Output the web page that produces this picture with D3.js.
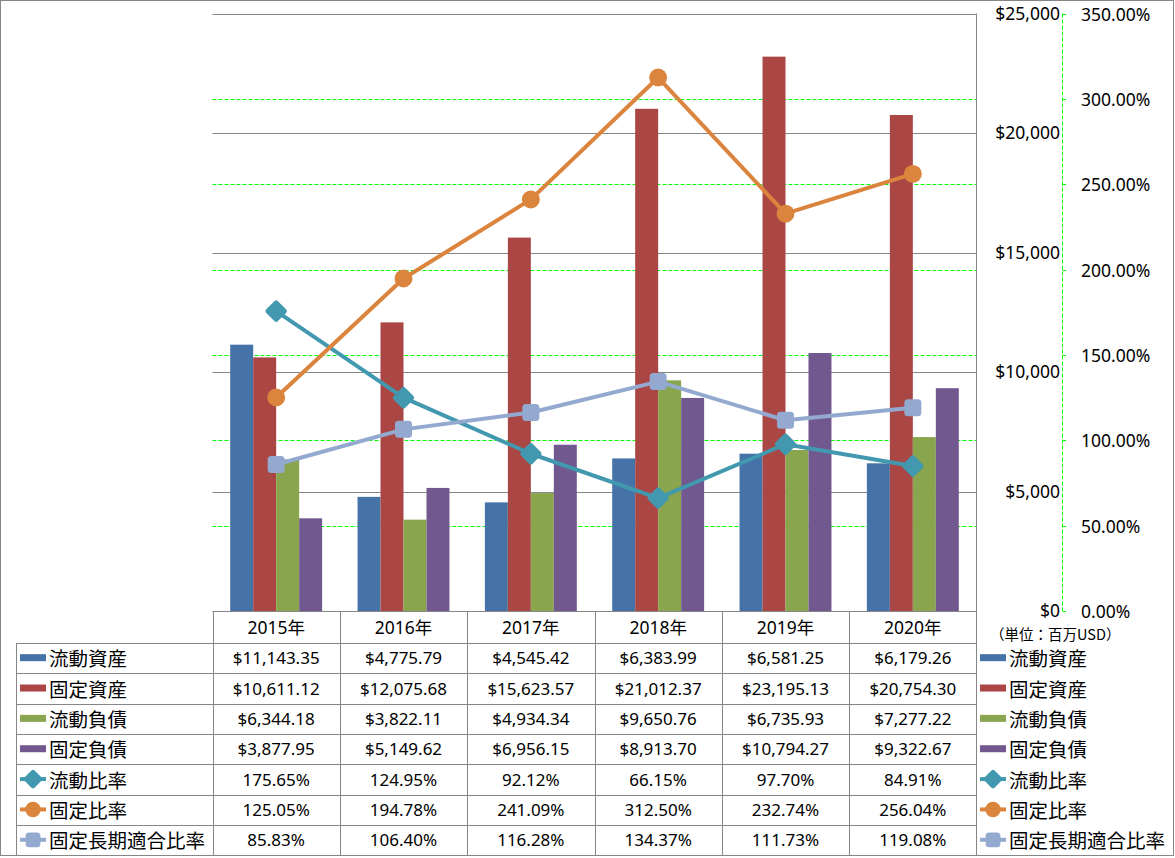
<!DOCTYPE html>
<html><head><meta charset="utf-8">
<script src="https://cdn.jsdelivr.net/npm/d3@7"></script>
<style>
body{margin:0;background:#fff;}
svg{display:block;}
text{font-family:"Noto Sans","Noto Sans CJK JP",sans-serif;fill:#000;}
.jp{font-family:"Noto Sans CJK JP",sans-serif;}
</style></head><body>
<svg id="c" width="1175" height="858"></svg>
<script>
const years = ["2015年","2016年","2017年","2018年","2019年","2020年"];
const barNames = ["流動資産","固定資産","流動負債","固定負債"];
const lineNames = ["流動比率","固定比率","固定長期適合比率"];
const currentAssets = [11143.35, 4775.79, 4545.42, 6383.99, 6581.25, 6179.26];
const fixedAssets = [10611.12, 12075.68, 15623.57, 21012.37, 23195.13, 20754.30];
const currentLiab = [6344.18, 3822.11, 4934.34, 9650.76, 6735.93, 7277.22];
const fixedLiab = [3877.95, 5149.62, 6956.15, 8913.70, 10794.27, 9322.67];
const currentRatio = [175.65, 124.95, 92.12, 66.15, 97.70, 84.91];
const fixedRatio = [125.05, 194.78, 241.09, 312.50, 232.74, 256.04];
const fixedLongRatio = [85.83, 106.40, 116.28, 134.37, 111.73, 119.08];
const leftTicks = [0, 5000, 10000, 15000, 20000, 25000];
const rightTicks = [0, 50, 100, 150, 200, 250, 300, 350];
const unitLabel = "（単位：百万USD）";

const barColors = ["#4572A7","#AA4643","#89A54E","#71588F"];
const lineColors = ["#4198AF","#DB843D","#93A9CF"];
const markerTypes = ["diamond","circle","square"];

const barData = [currentAssets, fixedAssets, currentLiab, fixedLiab];
const lineData = [currentRatio, fixedRatio, fixedLongRatio];

const svg = d3.select("#c");
const L = 212.5, R = 976.5, T = 13.5, B = 611;
const tableTop = 611, headerH = 32, rowH = 30.35, tableLeft = 16, tableBottom = 855.5;

const x = d3.scaleBand().domain(years).range([L, R]).paddingInner(0).paddingOuter(0);
const pad = 17.7;
const xb = d3.scaleBand().domain(barNames).range([pad, x.bandwidth() - pad]).padding(0);
const yL = d3.scaleLinear().domain([0, 25000]).range([B, T]);
const yR = d3.scaleLinear().domain([0, 350]).range([B, T]);

// outer border
svg.append("rect").attr("x",0.5).attr("y",0.5).attr("width",1173).attr("height",855).attr("fill","#fff").attr("stroke","#868686");

// gridlines: left axis solid gray
svg.append("g").selectAll("line").data(leftTicks.filter(d=>d>0)).join("line")
  .attr("x1",L).attr("x2",R).attr("y1",d=>Math.round(yL(d))+0.5).attr("y2",d=>Math.round(yL(d))+0.5)
  .attr("stroke","#868686").attr("stroke-width",1);
// right axis dashed green
svg.append("g").selectAll("line").data(rightTicks.filter(d=>d>0 && d<350)).join("line")
  .attr("x1",L).attr("x2",R).attr("y1",d=>Math.round(yR(d))+0.5).attr("y2",d=>Math.round(yR(d))+0.5)
  .attr("stroke","#00ff00").attr("stroke-width",1).attr("stroke-dasharray","4,2");

// bars
const gBars = svg.append("g");
barNames.forEach((name, si) => {
  gBars.append("g").selectAll("rect").data(barData[si]).join("rect")
    .attr("x",(d,i)=>x(years[i]) + xb(name))
    .attr("width", xb.bandwidth())
    .attr("y", d=>yL(d))
    .attr("height", d=>yL(0)-yL(d))
    .attr("fill", barColors[si]);
});

// right vertical line of plot/table
svg.append("line").attr("x1",R).attr("x2",R).attr("y1",T).attr("y2",tableBottom).attr("stroke","#868686");

// marker drawer
function marker(g, type, cx, cy, color, s) {
  if (type === "diamond") {
    const h = s*0.72;
    g.append("rect").attr("x",cx-h/2).attr("y",cy-h/2).attr("width",h).attr("height",h).attr("rx",2.5)
      .attr("transform",`rotate(45 ${cx} ${cy})`).attr("fill",color);
  } else if (type === "circle") {
    g.append("circle").attr("cx",cx).attr("cy",cy).attr("r",s/2*0.78).attr("fill",color);
  } else {
    const h = s*0.74;
    g.append("rect").attr("x",cx-h/2).attr("y",cy-h/2).attr("width",h).attr("height",h).attr("rx",3.5).attr("fill",color);
  }
}

// lines
const line = d3.line().x((d,i)=>x(years[i]) + x.bandwidth()/2).y(d=>yR(d));
const gLines = svg.append("g");
lineNames.forEach((name, si) => {
  const g = gLines.append("g");
  g.append("path").attr("d", line(lineData[si])).attr("fill","none")
    .attr("stroke", lineColors[si]).attr("stroke-width",4).attr("stroke-linejoin","round");
  lineData[si].forEach((v,i)=>{
    marker(g, markerTypes[si], x(years[i]) + x.bandwidth()/2, yR(v), lineColors[si], 23);
  });
});

// left $ axis labels (drawn on right side)
svg.append("g").selectAll("text").data(leftTicks).join("text")
  .attr("x",1060).attr("y",d=>yL(d)-1).attr("text-anchor","end").attr("dominant-baseline","central")
  .attr("font-size",17.5).text(d=>"$" + d3.format(",")(d));

// right % axis
const gR = svg.append("g");
gR.append("line").attr("x1",1062.5).attr("x2",1062.5).attr("y1",T).attr("y2",B)
  .attr("stroke","#00ff00").attr("stroke-dasharray","4,2");
gR.selectAll("line.t").data(rightTicks).join("line").attr("class","t")
  .attr("x1",1062.5).attr("x2",1066).attr("y1",d=>Math.round(yR(d))+0.5).attr("y2",d=>Math.round(yR(d))+0.5)
  .attr("stroke","#00ff00");
gR.selectAll("text").data(rightTicks).join("text")
  .attr("x",1081).attr("y",d=>yR(d)).attr("dominant-baseline","central")
  .attr("font-size",17.5).text(d=>d3.format(".2f")(d) + "%");

// unit label
svg.append("text").attr("class","jp").attr("x",990).attr("y",633).attr("dominant-baseline","central")
  .attr("font-size",14.5).text(unitLabel);

// data table
const gT = svg.append("g");
const stroke = "#868686";
gT.append("line").attr("x1",L).attr("x2",R).attr("y1",tableTop+0.5).attr("y2",tableTop+0.5).attr("stroke",stroke);
years.forEach((yr,i)=>{
  gT.append("text").attr("x",x(yr)+x.bandwidth()/2).attr("y",tableTop+headerH/2)
    .attr("text-anchor","middle").attr("dominant-baseline","central").attr("font-size",17.5).text(yr);
});
x.domain().forEach(yr=>{
  gT.append("line").attr("x1",Math.round(x(yr))+0.5).attr("x2",Math.round(x(yr))+0.5)
    .attr("y1",tableTop).attr("y2",tableBottom).attr("stroke",stroke);
});
const rowsTop = tableTop + headerH;
gT.append("line").attr("x1",tableLeft+0.5).attr("x2",tableLeft+0.5).attr("y1",rowsTop).attr("y2",tableBottom).attr("stroke",stroke);
const allNames = barNames.concat(lineNames);
const allData = barData.concat(lineData);
allNames.forEach((name, r)=>{
  const yTop = rowsTop + r*rowH;
  gT.append("line").attr("x1",tableLeft).attr("x2",R).attr("y1",Math.round(yTop)+0.5).attr("y2",Math.round(yTop)+0.5).attr("stroke",stroke);
  const cy = yTop + rowH/2 - 0.5;
  const isBar = r < 4;
  allData[r].forEach((v,i)=>{
    gT.append("text").attr("x",x(years[i])+x.bandwidth()/2).attr("y",cy)
      .attr("text-anchor","middle").attr("dominant-baseline","central").attr("font-size",17)
      .text(isBar ? "$" + d3.format(",.2f")(v) : d3.format(".2f")(v) + "%");
  });
  [[20, 49],[980, 1009]].forEach(([kx, tx])=>{
    if (isBar) {
      gT.append("rect").attr("x",kx).attr("y",cy-3.5).attr("width",26).attr("height",7).attr("fill",barColors[r]);
    } else {
      const li = r-4;
      gT.append("line").attr("x1",kx).attr("x2",kx+26).attr("y1",cy).attr("y2",cy)
        .attr("stroke",lineColors[li]).attr("stroke-width",4);
      marker(gT, markerTypes[li], kx+13, cy, lineColors[li], 20);
    }
    gT.append("text").attr("class","jp").attr("x",tx).attr("y",cy).attr("dominant-baseline","central")
      .attr("font-size",19.5).text(name);
  });
});
</script>
</body></html>
